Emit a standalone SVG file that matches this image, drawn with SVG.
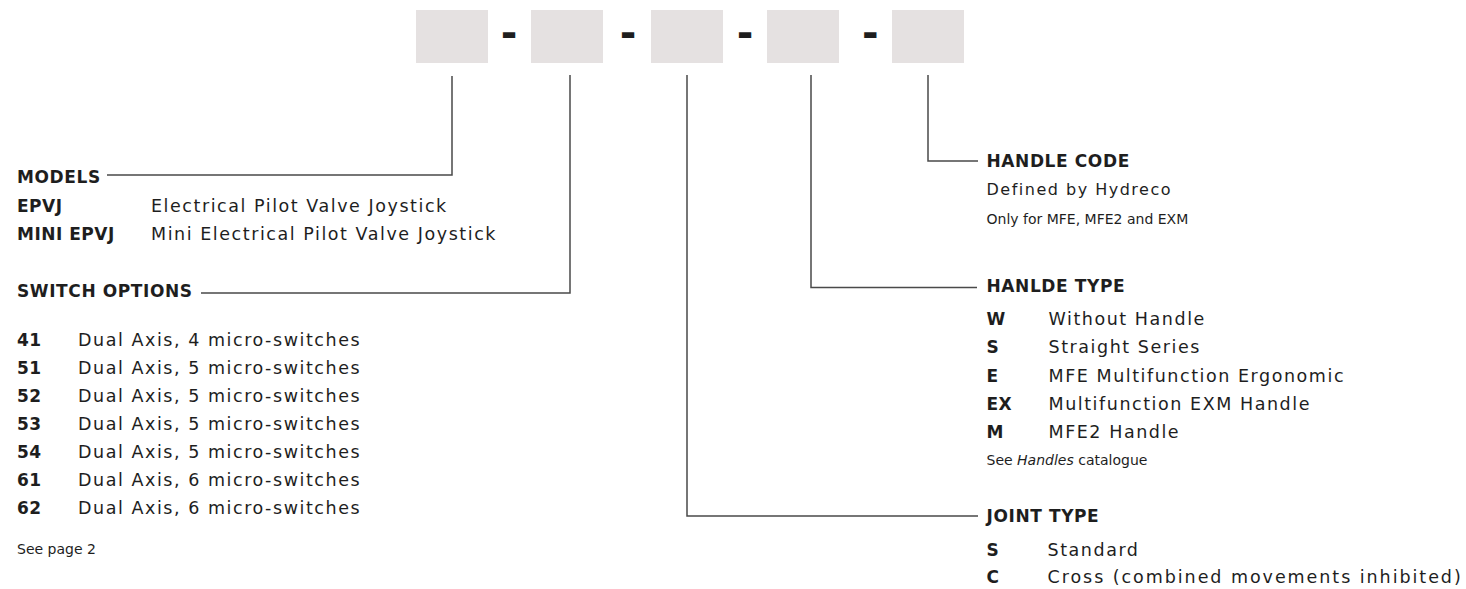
<svg xmlns="http://www.w3.org/2000/svg" width="1466" height="589" viewBox="0 0 1466 589">
<style>
text{font-family:"DejaVu Sans","Liberation Sans",sans-serif;fill:#1e1e1e}
.t{font-size:17px;font-weight:bold;letter-spacing:0.6px}
.c{font-size:17px;font-weight:bold;letter-spacing:0.5px}
.d{font-size:17.5px;letter-spacing:1.55px}
.s{font-size:14px}
.dash{font-size:40px;font-weight:bold;text-anchor:middle}
.box{fill:#e5e1e1}
.ln{fill:none;stroke:#4a4a4a;stroke-width:1.5}
</style>
<g id="code">
<rect class="box" x="416" y="10" width="72" height="53"/>
<rect class="box" x="531" y="10" width="72" height="53"/>
<rect class="box" x="651" y="10" width="72" height="53"/>
<rect class="box" x="767" y="10" width="72" height="53"/>
<rect class="box" x="892" y="10" width="72" height="53"/>
<text class="dash" x="509" y="47">-</text>
<text class="dash" x="628" y="47">-</text>
<text class="dash" x="745" y="47">-</text>
<text class="dash" x="870.4" y="47">-</text>
</g>
<g id="connectors">
<path class="ln" d="M452,76 V175 H107"/>
<path class="ln" d="M570,75 V293 H201"/>
<path class="ln" d="M687,75 V516 H978"/>
<path class="ln" d="M811,75 V287.5 H977"/>
<path class="ln" d="M928,75 V161 H978"/>
</g>
<g id="models">
<text class="t" x="17" y="182.7">MODELS</text>
<text class="c" x="17" y="211.5">EPVJ</text>
<text class="d" x="151" y="211.5">Electrical Pilot Valve Joystick</text>
<text class="c" x="17" y="240">MINI EPVJ</text>
<text class="d" x="151" y="240">Mini Electrical Pilot Valve Joystick</text>
</g>
<g id="switch-options">
<text class="t" x="17" y="297">SWITCH OPTIONS</text>
<text class="c" x="17" y="345.5">41</text><text class="d" x="78" y="345.5">Dual Axis, 4 micro-switches</text>
<text class="c" x="17" y="373.5">51</text><text class="d" x="78" y="373.5">Dual Axis, 5 micro-switches</text>
<text class="c" x="17" y="401.5">52</text><text class="d" x="78" y="401.5">Dual Axis, 5 micro-switches</text>
<text class="c" x="17" y="429.5">53</text><text class="d" x="78" y="429.5">Dual Axis, 5 micro-switches</text>
<text class="c" x="17" y="457.5">54</text><text class="d" x="78" y="457.5">Dual Axis, 5 micro-switches</text>
<text class="c" x="17" y="485.5">61</text><text class="d" x="78" y="485.5">Dual Axis, 6 micro-switches</text>
<text class="c" x="17" y="513.5">62</text><text class="d" x="78" y="513.5">Dual Axis, 6 micro-switches</text>
<text class="s" x="17" y="554">See page 2</text>
</g>
<g id="handle-code">
<text class="t" x="986.5" y="167.3">HANDLE CODE</text>
<text class="d" x="986.5" y="195" style="font-size:16px;letter-spacing:1.5px">Defined by Hydreco</text>
<text class="s" x="986.5" y="224">Only for MFE, MFE2 and EXM</text>
</g>
<g id="handle-type">
<text class="t" x="986.5" y="291.5">HANLDE TYPE</text>
<text class="c" x="986.5" y="325">W</text><text class="d" x="1048.5" y="325">Without Handle</text>
<text class="c" x="986.5" y="353.3">S</text><text class="d" x="1048.5" y="353.3">Straight Series</text>
<text class="c" x="986.5" y="381.6">E</text><text class="d" x="1048.5" y="381.6">MFE Multifunction Ergonomic</text>
<text class="c" x="986.5" y="409.9">EX</text><text class="d" x="1048.5" y="409.9">Multifunction EXM Handle</text>
<text class="c" x="986.5" y="438.2">M</text><text class="d" x="1048.5" y="438.2">MFE2 Handle</text>
<text class="s" x="986.5" y="465">See <tspan font-style="italic">Handles</tspan> catalogue</text>
</g>
<g id="joint-type">
<text class="t" x="986.5" y="521.7">JOINT TYPE</text>
<text class="c" x="986.5" y="555.5">S</text><text class="d" x="1047.5" y="555.5">Standard</text>
<text class="c" x="986.5" y="583">C</text><text class="d" x="1047.5" y="583" style="letter-spacing:1.95px">Cross (combined movements inhibited)</text>
</g>
</svg>
